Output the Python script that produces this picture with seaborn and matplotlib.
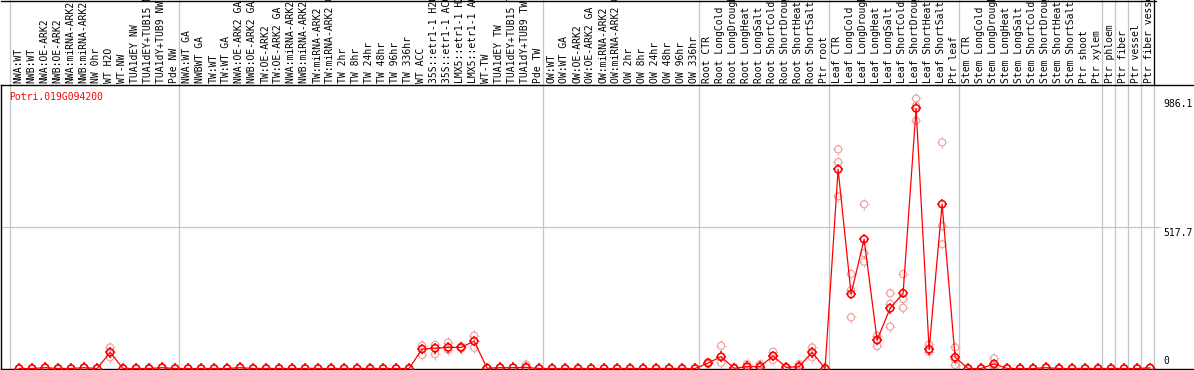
import numpy as np
import pandas as pd
import matplotlib
matplotlib.use("Agg")
import matplotlib.pyplot as plt
import seaborn as sns
from matplotlib.path import Path
from matplotlib import transforms
from matplotlib.lines import Line2D

# ---------------- data ----------------
gene = "Potri.019G094200"

labels = [
    "NWA:WT", "NWB:WT", "NWA:OE-ARK2", "NWB:OE-ARK2", "NWA:miRNA-ARK2", "NWB:miRNA-ARK2",
    "NW 0hr", "WT H2O", "WT-NW", "TUA1dEY NW", "TUA1dEY+TUB15 NW", "TUA1dY+TUB9 NW", "Pde NW",
    "NWA:WT GA", "NWBWT GA", "TW:WT", "TW:WT GA", "NWA:OE-ARK2 GA", "NWB:OE-ARK2 GA",
    "TW:OE-ARK2", "TW:OE-ARK2 GA", "NWA:miRNA-ARK2 GA", "NWB:miRNA-ARK2 GA", "TW:miRNA-ARK2",
    "TW:miRNA-ARK2 GA", "TW 2hr", "TW 8hr", "TW 24hr", "TW 48hr", "TW 96hr", "TW 336hr",
    "WT ACC", "35S::etr1-1 H2O", "35S::etr1-1 ACC", "LMX5::etr1-1 H2O", "LMX5::etr1-1 ACC",
    "WT-TW", "TUA1dEY TW", "TUA1dEY+TUB15 TW", "TUA1dY+TUB9 TW", "Pde TW",
    "OW:WT", "OW:WT GA", "OW:OE-ARK2", "OW:OE-ARK2 GA", "OW:miRNA-ARK2", "OW:miRNA-ARK2 GA",
    "OW 2hr", "OW 8hr", "OW 24hr", "OW 48hr", "OW 96hr", "OW 336hr",
    "Root CTR", "Root LongCold", "Root LongDrought", "Root LongHeat", "Root LongSalt",
    "Root ShortCold", "Root ShortDrought", "Root ShortHeat", "Root ShortSalt", "Ptr root",
    "Leaf CTR", "Leaf LongCold", "Leaf LongDrought", "Leaf LongHeat", "Leaf LongSalt",
    "Leaf ShortCold", "Leaf ShortDrought", "Leaf ShortHeat", "Leaf ShortSalt", "Ptr leaf",
    "Stem CTR", "Stem LongCold", "Stem LongDrought", "Stem LongHeat", "Stem LongSalt",
    "Stem ShortCold", "Stem ShortDrought", "Stem ShortHeat", "Stem ShortSalt", "Ptr shoot",
    "Ptr xylem", "Ptr phloem", "Ptr fiber", "Ptr vessel", "Ptr fiber vessel",
]

means = (
    [0, 0, 3, 0, 0, 3, 0, 59, 0, 0, 0, 3, 0]
    + [0, 0, 0, 0, 3, 0, 0, 0, 0, 0, 0, 0, 0, 0, 0, 0, 0, 0,
       71, 74, 77, 77, 100, 1, 3, 3, 4, 0]
    + [0] * 12
    + [20, 43, 1, 7, 7, 46, 4, 7, 59, 0]
    + [727, 272, 472, 104, 220, 275, 950, 70, 600, 41]
    + [0, 0, 17, 0, 0, 0, 3, 0, 0, 0]
    + [0, 0, 0, 0, 2]
)

rep1 = (
    [0, 0, 3, 0, 0, 3, 0, 77, 0, 0, 0, 3, 0]
    + [0, 0, 0, 0, 3, 0, 0, 0, 0, 0, 0, 0, 0, 0, 0, 0, 0, 0,
       83, 86, 94, 80, 120, 1, 3, 3, 15, 0]
    + [0] * 12
    + [24, 83, 4, 16, 16, 61, 6, 16, 77, 0]
    + [800, 345, 600, 119, 275, 345, 986.1, 88, 826, 77]
    + [0, 0, 37, 0, 0, 0, 3, 0, 0, 0]
    + [0, 0, 0, 0, 2]
)
rep2 = (
    [0, 0, 3, 0, 0, 3, 0, 59, 0, 0, 0, 3, 0]
    + [0, 0, 0, 0, 3, 0, 0, 0, 0, 0, 0, 0, 0, 0, 0, 0, 0, 0,
       71, 74, 77, 77, 100, 1, 3, 3, 4, 0]
    + [0] * 12
    + [20, 43, 1, 7, 7, 46, 4, 7, 59, 0]
    + [754, 287, 421, 104, 236, 254, 960, 70, 520, 33]
    + [0, 0, 12, 0, 0, 0, 3, 0, 0, 0]
    + [0, 0, 0, 0, 2]
)
rep3 = (
    [0, 0, 3, 0, 0, 3, 0, 41, 0, 0, 0, 3, 0]
    + [0, 0, 0, 0, 3, 0, 0, 0, 0, 0, 0, 0, 0, 0, 0, 0, 0, 0,
       49, 52, 68, 74, 76, 1, 3, 3, 2, 0]
    + [0] * 12
    + [16, 21, 0, 2, 2, 31, 2, 2, 41, 0]
    + [629, 187, 390, 82, 153, 222, 905, 61, 454, 13]
    + [0, 0, 4, 0, 0, 0, 3, 0, 0, 0]
    + [0, 0, 0, 0, 2]
)

group_bounds = [0, 13, 41, 53, 63, 73, 84, 85, 86, 87, 88]
ytick_values = [0, 517.7, 986.1]
ytick_labels = ["0", "517.7", "986.1"]
y_top = 1035.4

# ---------------- style ----------------
sns.set_style("white")
plt.rcParams['font.family'] = ['DejaVu Sans Mono', 'DejaVu Sans']
FS = 7.0
RED = "#ff0000"
PINK = "#f0a0a0"
GREY = "#c4c4c4"

W, H = 1194, 370
fig = plt.figure(figsize=(W / 100, H / 100), dpi=100)
px0, colw = 10.0, 13.0
ax_top_px, ax_bot_px = 85.0, 368.5
ax = fig.add_axes([1 / W, (H - ax_bot_px) / H, (W - 1) / W, (ax_bot_px - ax_top_px) / H])
ax.set_xlim((1 - px0) / colw, (W - px0) / colw)
ax.set_ylim(0, y_top)
for s in ["left", "bottom", "top"]:
    ax.spines[s].set_visible(True)
    ax.spines[s].set_color("black")
    ax.spines[s].set_linewidth(1.0)
ax.spines["right"].set_visible(False)

# grid lines
full_frac = ax_bot_px / (ax_bot_px - ax_top_px)
for b in group_bounds:
    ax.axvline(b, ymin=0, ymax=full_frac, color=GREY, lw=0.9, clip_on=False, zorder=0)
ax.axvline(88, ymin=1, ymax=full_frac, color="black", lw=0.9, clip_on=False, zorder=0)
ax.axhline(517.7, xmin=0, xmax=(1160 - 1) / (W - 1), color=GREY, lw=0.9, zorder=0)
fig.add_artist(Line2D([1 / W, 1156 / W], [1 - 0.5 / H, 1 - 0.5 / H], color="black", lw=1.0))

# ---------------- marks ----------------
xpos = np.arange(len(labels)) + 0.7
df_mean = pd.DataFrame({"x": xpos, "value": means})
df_rep = pd.DataFrame({
    "x": np.concatenate([xpos, xpos, xpos]),
    "value": np.concatenate([rep1, rep2, rep3]),
})

# short tick marks around each circle
tick_verts = [(0, 0.68), (0, 1.0), (0, -0.68), (0, -1.0), (0.68, 0), (1.0, 0), (-0.68, 0), (-1.0, 0)]
tick_codes = [Path.MOVETO, Path.LINETO] * 4
ticks = Path(tick_verts, tick_codes)

S_CIRC = 26   # ~7 px diameter circle
S_TICK = 58   # ~10.5 px overall span of the ticks

for data, col, lw, z in [(df_rep, PINK, 0.85, 2), (df_mean, RED, 1.15, 4)]:
    sns.scatterplot(data=data, x="x", y="value", ax=ax, marker="o", s=S_CIRC,
                    facecolors="none", edgecolor=col, linewidths=lw, zorder=z, clip_on=False)
    sns.scatterplot(data=data, x="x", y="value", ax=ax, marker=ticks, s=S_TICK,
                    facecolors="none", edgecolor=col, linewidths=lw, zorder=z, clip_on=False)
    if z == 2:
        sns.lineplot(data=df_mean, x="x", y="value", ax=ax, color=RED, lw=0.9,
                     sort=False, zorder=3, clip_on=False)

ax.set_xlabel("")
ax.set_ylabel("")
ax.set_xticks([])
ax.set_yticks([])
ax.set_xlim((1 - px0) / colw, (W - px0) / colw)
ax.set_ylim(0, y_top)

# ---------------- text ----------------
lab_tr = transforms.offset_copy(
    transforms.blended_transform_factory(ax.transData, ax.transAxes), fig=fig, x=0, y=2, units="dots")
for i, lab in enumerate(labels):
    ax.text(i + 0.65, 1.0, lab, transform=lab_tr, rotation=90, ha="center", va="bottom",
            fontsize=FS, color="black", clip_on=False)

ytx = (1163 - px0) / colw
for v, t in zip(ytick_values, ytick_labels):
    ax.text(ytx, v, t, ha="left", va="bottom" if v == 0 else "top", fontsize=FS,
            color="black", transform=transforms.offset_copy(ax.transData, fig=fig, x=0,
                                                            y=3 if v == 0 else -1, units="dots"))

ax.text((9.5 - px0) / colw, (ax_bot_px - 97) / (ax_bot_px - ax_top_px), gene,
        transform=transforms.blended_transform_factory(ax.transData, ax.transAxes),
        ha="left", va="center", fontsize=FS, color=RED)

fig.savefig("out.png", dpi=100)
